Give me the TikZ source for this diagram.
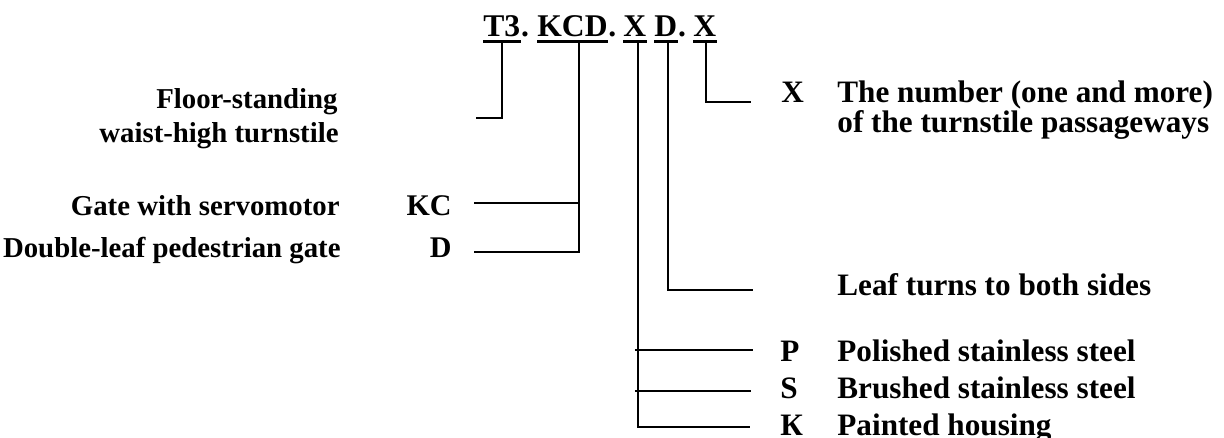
\documentclass[tikz,border=0pt]{standalone}
\usepackage{fontspec}
\setmainfont{Liberation Serif}

\begin{document}
\begin{tikzpicture}[x=0.5pt,y=-0.5pt,
    code/.style={font=\fontsize{15.8}{16}\selectfont\bfseries, inner sep=0pt, anchor=base west},
    lefttext/.style={font=\fontsize{14.4}{16}\selectfont\bfseries, inner sep=0pt, anchor=base east},
    midcode/.style={font=\fontsize{15}{16}\selectfont\bfseries, inner sep=0pt, anchor=base east},
    righttext/.style={font=\fontsize{15.6}{16}\selectfont\bfseries, inner sep=0pt, anchor=base west},
    uline/.style={line width=1.5pt},
    link/.style={line width=1pt}]
    \useasboundingbox (0,0) rectangle (1224,438);

    % Designation code
    \node[code] (t3) at (483,37) {T3};
    \node[code] (dot1) at (t3.base east) {.};
    \node[code] (kcd) at (537,37) {KCD};
    \node[code] (dot2) at (kcd.base east) {.};
    \node[code] (xmat) at (623,37) {X};
    \node[code] (dleaf) at (654,37) {D};
    \node[code] (dot3) at (dleaf.base east) {.};
    \node[code] (xnum) at (693,37) {X};

    % Underlines
    \foreach \n in {t3, kcd, xmat, dleaf, xnum} {
        \draw[uline] ([yshift=-2.25pt]\n.base west) -- ([yshift=-2.25pt]\n.base east);
    }

    % Left side labels
    \node[lefttext] (floorA) at (338,109) {Floor-standing};
    \node[lefttext] (floorB) at (339,143) {waist-high turnstile};
    \node[lefttext] (gate) at (340,215) {Gate with servomotor};
    \node[lefttext] (dbl) at (341,257) {Double-leaf pedestrian gate};
    \node[midcode] (kc) at (452,215) {KC};
    \node[midcode] (dd) at (452,257) {D};

    % Right side labels
    \node[righttext] (xlet) at (781,103) {X};
    \node[righttext] (numA) at (837,103) {The number (one and more)};
    \node[righttext] (numB) at (837,133) {of the turnstile passageways};
    \node[righttext] (leaf) at (837,295) {Leaf turns to both sides};
    \foreach \c/\t/\y/\n in {P/Polished stainless steel/361/pol, S/Brushed stainless steel/398/bru, К/Painted housing/435/pai} {
        \node[righttext] (\n let) at (780,\y) {\c};
        \node[righttext] (\n) at (837,\y) {\t};
    }

    % Connector ends
    \coordinate (t3foot) at (476,118);
    \coordinate (kcfoot) at (474,203);
    \coordinate (ddfoot) at (474,252);
    \coordinate (kcdjoin) at (578,203);
    \coordinate (polfoot) at (753,350);
    \coordinate (brufoot) at (751,391);
    \coordinate (paifoot) at (750,427);
    \coordinate (leaffoot) at (753,290);
    \coordinate (numfoot) at (751,102);

    % Connectors
    \draw[link] ([yshift=-2.25pt]t3.base) |- (t3foot);
    \draw[link] ([xshift=3pt,yshift=-2.25pt]kcd.base) |- (ddfoot);
    \draw[link] (kcfoot) -- (kcdjoin);
    \draw[link] ([xshift=1.75pt,yshift=-2.25pt]xmat.base) |- (paifoot);
    \draw[link] (xmat.base |- polfoot) -- (polfoot);
    \draw[link] (xmat.base |- brufoot) -- (brufoot);
    \draw[link] ([xshift=1.25pt,yshift=-2.25pt]dleaf.base) |- (leaffoot);
    \draw[link] ([xshift=0.5pt,yshift=-2.25pt]xnum.base) |- (numfoot);
\end{tikzpicture}
\end{document}
